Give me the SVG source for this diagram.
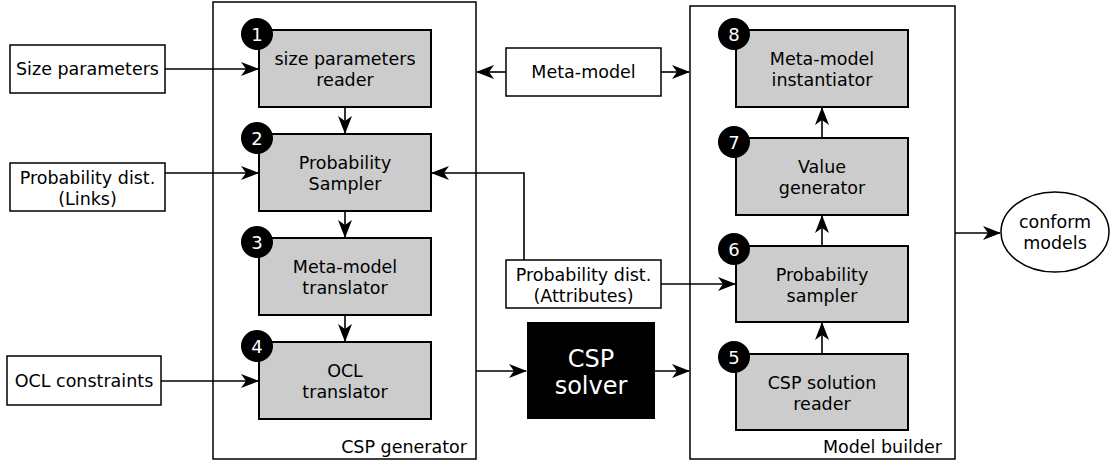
<svg xmlns="http://www.w3.org/2000/svg" width="1112" height="466" viewBox="0 0 1112 466">
<defs>
<marker id="ah" viewBox="0 0 18 14" refX="17" refY="7" markerWidth="18" markerHeight="14" markerUnits="userSpaceOnUse" orient="auto">
<path d="M0,0 L18,7 L0,14 L5,7 Z" fill="#000"/>
</marker>
</defs>
<style>
.cont{fill:#fff;stroke:#000;stroke-width:1.5}
.proc{fill:#cccccc;stroke:#000;stroke-width:2}
.inp{fill:#fff;stroke:#000;stroke-width:1.5}
.t{font-family:"DejaVu Sans",sans-serif;font-size:17.5px;fill:#000;text-anchor:middle}
.num{font-family:"DejaVu Sans",sans-serif;font-size:18px;fill:#fff;text-anchor:middle}
.lbl{font-family:"DejaVu Sans",sans-serif;font-size:17.5px;fill:#000;text-anchor:end}
.c{fill:none;stroke:#000;stroke-width:1.6}
</style>
<g id="csp-generator"><rect class="cont" x="213" y="2" width="263" height="457"/><text class="lbl" x="467" y="453">CSP generator</text></g>
<g id="model-builder"><rect class="cont" x="690" y="6" width="265" height="453"/><text class="lbl" x="942" y="453">Model builder</text></g>

<g id="size-params"><rect class="inp" x="10" y="45" width="155" height="48"/><text class="t" x="87.5" y="75">Size parameters</text></g>
<g id="prob-links"><rect class="inp" x="10" y="163" width="155" height="48"/><text class="t" x="87.5" y="184">Probability dist.</text><text class="t" x="87.5" y="205">(Links)</text></g>
<g id="ocl-constraints"><rect class="inp" x="7" y="356" width="154" height="49"/><text class="t" x="84" y="387">OCL constraints</text></g>
<g id="meta-model"><rect class="inp" x="506" y="48" width="155" height="48"/><text class="t" x="583.5" y="78">Meta-model</text></g>
<g id="prob-attrs"><rect class="inp" x="506" y="260" width="155" height="48"/><text class="t" x="583.5" y="281">Probability dist.</text><text class="t" x="583.5" y="302">(Attributes)</text></g>
<g id="csp-solver"><rect x="527" y="322" width="128" height="97" fill="#000"/><text x="591" y="367" font-family="DejaVu Sans,sans-serif" font-size="24" fill="#fff" text-anchor="middle">CSP</text><text x="591" y="394" font-family="DejaVu Sans,sans-serif" font-size="24" fill="#fff" text-anchor="middle">solver</text></g>
<g id="conform-models"><ellipse cx="1055" cy="232" rx="54" ry="40" fill="#fff" stroke="#000" stroke-width="1.5"/><text class="t" x="1055" y="228">conform</text><text class="t" x="1055" y="249">models</text></g>

<g id="n1"><rect class="proc" x="259" y="30" width="172" height="77"/><text class="t" x="345" y="65">size parameters</text><text class="t" x="345" y="86">reader</text><circle cx="257" cy="34" r="16" fill="#000"/><text class="num" x="257" y="40.5">1</text></g>
<g id="n2"><rect class="proc" x="259" y="134" width="172" height="77"/><text class="t" x="345" y="169">Probability</text><text class="t" x="345" y="190">Sampler</text><circle cx="257" cy="138" r="16" fill="#000"/><text class="num" x="257" y="144.5">2</text></g>
<g id="n3"><rect class="proc" x="259" y="238" width="172" height="77"/><text class="t" x="345" y="273">Meta-model</text><text class="t" x="345" y="294">translator</text><circle cx="257" cy="242" r="16" fill="#000"/><text class="num" x="257" y="248.5">3</text></g>
<g id="n4"><rect class="proc" x="259" y="342" width="172" height="77"/><text class="t" x="345" y="377">OCL</text><text class="t" x="345" y="398">translator</text><circle cx="257" cy="346" r="16" fill="#000"/><text class="num" x="257" y="352.5">4</text></g>
<g id="n8"><rect class="proc" x="736" y="30" width="172" height="77"/><text class="t" x="822" y="65">Meta-model</text><text class="t" x="822" y="86">instantiator</text><circle cx="734" cy="34" r="16" fill="#000"/><text class="num" x="734" y="40.5">8</text></g>
<g id="n7"><rect class="proc" x="736" y="138" width="172" height="77"/><text class="t" x="822" y="173">Value</text><text class="t" x="822" y="194">generator</text><circle cx="734" cy="142" r="16" fill="#000"/><text class="num" x="734" y="148.5">7</text></g>
<g id="n6"><rect class="proc" x="736" y="246" width="172" height="76"/><text class="t" x="822" y="281">Probability</text><text class="t" x="822" y="302">sampler</text><circle cx="734" cy="249" r="16" fill="#000"/><text class="num" x="734" y="255.5">6</text></g>
<g id="n5"><rect class="proc" x="736" y="354" width="172" height="76"/><text class="t" x="822" y="389">CSP solution</text><text class="t" x="822" y="410">reader</text><circle cx="734" cy="357" r="16" fill="#000"/><text class="num" x="734" y="363.5">5</text></g>

<g id="connectors">
<path class="c" d="M165,69 H258" marker-end="url(#ah)"/>
<path class="c" d="M165,173 H258" marker-end="url(#ah)"/>
<path class="c" d="M161,381 H258" marker-end="url(#ah)"/>
<path class="c" d="M345,107 V133" marker-end="url(#ah)"/>
<path class="c" d="M345,211 V237" marker-end="url(#ah)"/>
<path class="c" d="M345,315 V341" marker-end="url(#ah)"/>
<path class="c" d="M506,72 H477" marker-end="url(#ah)"/>
<path class="c" d="M661,72 H689" marker-end="url(#ah)"/>
<path class="c" d="M524,260 V173 H432" marker-end="url(#ah)"/>
<path class="c" d="M661,284 H735" marker-end="url(#ah)"/>
<path class="c" d="M476,371 H526" marker-end="url(#ah)"/>
<path class="c" d="M655,371 H689" marker-end="url(#ah)"/>
<path class="c" d="M822,354 V323" marker-end="url(#ah)"/>
<path class="c" d="M822,246 V216" marker-end="url(#ah)"/>
<path class="c" d="M822,138 V108" marker-end="url(#ah)"/>
<path class="c" d="M955,233 H1000" marker-end="url(#ah)"/>
</g>
</svg>
